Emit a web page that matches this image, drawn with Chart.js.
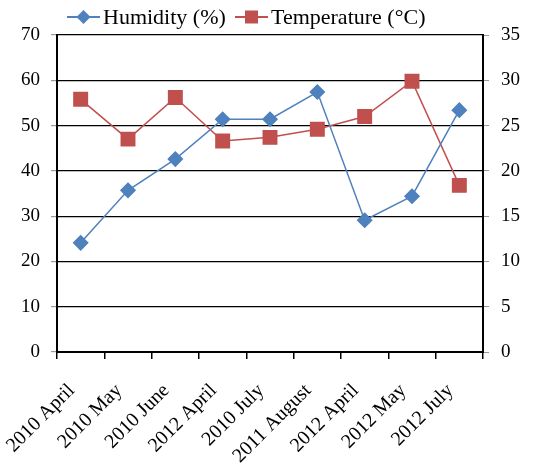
<!DOCTYPE html>
<html>
<head>
<meta charset="utf-8">
<script src="https://cdn.jsdelivr.net/npm/chart.js@4/dist/chart.umd.min.js"></script>
<style>
  html, body { margin: 0; padding: 0; background: #fff; }
  #wrap { width: 544px; height: 465px; }
</style>
</head>
<body>
<div id="wrap"><canvas id="chart" width="544" height="465"></canvas></div>
<script>
// categories and series
var categories = ["2010 April", "2010 May", "2010 June", "2012 April", "2010 July",
                  "2011 August", "2012 April", "2012 May", "2012 July"];
var humidity = [24.1, 35.7, 42.6, 51.4, 51.4, 57.4, 29.1, 34.4, 53.4];
var temperature = [27.9, 23.5, 28.1, 23.3, 23.7, 24.6, 26.0, 29.9, 18.4];
var leftTicks = [0, 10, 20, 30, 40, 50, 60, 70];
var rightTicks = [0, 5, 10, 15, 20, 25, 30, 35];

var blue = "#4F81BD";
var red = "#C0504D";
var fontFamily = "'Liberation Serif', 'DejaVu Serif', serif";

// legend drawn by hand: a short line with the marker, then the label
var topLegend = {
    id: "topLegend",
    afterDraw: function (chart) {
        var g = chart.ctx;
        var items = [
            { text: "Humidity (%)", color: blue, shape: "diamond", x: 67 },
            { text: "Temperature (°C)", color: red, shape: "square", x: 235 }
        ];
        var y = 17;
        g.save();
        items.forEach(function (it) {
            g.strokeStyle = it.color;
            g.lineWidth = 2;
            g.beginPath(); g.moveTo(it.x, y); g.lineTo(it.x + 33, y); g.stroke();
            g.fillStyle = it.color;
            var cx = it.x + 16.5;
            g.beginPath();
            if (it.shape === "diamond") {
                g.moveTo(cx, y - 7); g.lineTo(cx + 7, y); g.lineTo(cx, y + 7); g.lineTo(cx - 7, y);
            } else {
                g.rect(cx - 6.5, y - 6.5, 13, 13);
            }
            g.closePath(); g.fill();
            g.fillStyle = "#000";
            g.font = "22px " + fontFamily;
            g.textBaseline = "middle";
            g.textAlign = "left";
            g.fillText(it.text, it.x + 36, y + 1);
        });
        g.restore();
    }
};

var ctx = document.getElementById("chart");
var chart = new Chart(ctx, {
    type: "line",
    data: {
        labels: categories,
        datasets: [{
            label: "Humidity (%)",
            data: humidity,
            yAxisID: "y",
            borderColor: blue,
            backgroundColor: blue,
            borderWidth: 1.5,
            pointStyle: "rectRot",
            pointRadius: 7,
            pointHoverRadius: 7,
            tension: 0
        }, {
            label: "Temperature (°C)",
            data: temperature,
            yAxisID: "y1",
            borderColor: red,
            backgroundColor: red,
            borderWidth: 1.5,
            pointStyle: "rect",
            pointRadius: 9.5,
            pointHoverRadius: 9.5,
            tension: 0
        }]
    },
    plugins: [topLegend],
    options: {
        responsive: false,
        animation: false,
        devicePixelRatio: 1,
        layout: { padding: { top: 35, left: 0, right: 0, bottom: 0 } },
        plugins: {
            tooltip: { enabled: false },
            legend: { display: false }
        },
        scales: {
            x: {
                offset: true,
                grid: {
                    offset: true,
                    drawOnChartArea: false,
                    drawTicks: true,
                    tickLength: 7,
                    color: "#000",
                    lineWidth: 1.5
                },
                border: { color: "#000", width: 2 },
                ticks: {
                    minRotation: 45,
                    maxRotation: 45,
                    autoSkip: false,
                    color: "#000",
                    padding: 20,
                    labelOffset: -9,
                    font: { family: fontFamily, size: 20 }
                },
                afterFit: function (s) {
                    s.height = 113;
                    s.paddingLeft = 0;
                    s.paddingRight = 0;
                }
            },
            y: {
                position: "left",
                min: 0,
                max: 70,
                afterBuildTicks: function (s) {
                    s.ticks = leftTicks.map(function (v) { return { value: v }; });
                },
                grid: { color: "#000", lineWidth: 1.2, tickLength: 6, tickColor: "#999" },
                border: { color: "#000", width: 2 },
                ticks: {
                    color: "#000",
                    padding: 11,
                    font: { family: fontFamily, size: 19 }
                },
                afterFit: function (s) { s.width = 57; }
            },
            y1: {
                position: "right",
                min: 0,
                max: 35,
                afterBuildTicks: function (s) {
                    s.ticks = rightTicks.map(function (v) { return { value: v }; });
                },
                grid: { drawOnChartArea: false, tickLength: 6, color: "#999" },
                border: { color: "#000", width: 2 },
                ticks: {
                    color: "#000",
                    padding: 12,
                    font: { family: fontFamily, size: 19 }
                },
                afterFit: function (s) { s.width = 61; }
            }
        }
    }
});
</script>
</body>
</html>
